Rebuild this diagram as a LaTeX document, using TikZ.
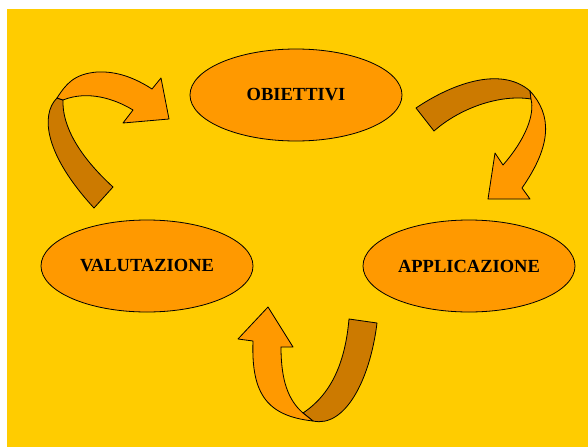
\documentclass[tikz,border=0pt]{standalone}
\usepackage{fontspec}
\setmainfont{Liberation Serif}
\usetikzlibrary{shapes.geometric}
\definecolor{bgyellow}{HTML}{FFCC00}
\definecolor{lightor}{HTML}{FF9900}
\definecolor{darkor}{HTML}{CC7A00}
\tikzset{
  oval/.style={ellipse, draw=black, line width=0.8pt, fill=lightor,
    minimum width=212pt, minimum height=92pt, inner sep=0pt,
    font=\fontsize{18.5}{22}\selectfont\bfseries},
  lightpart/.style={fill=lightor, draw=black, line width=0.8pt, line join=round},
  darkpart/.style={fill=darkor, draw=black, line width=0.8pt, line join=round}
}
\begin{document}
\begin{tikzpicture}[x=1pt,y=-1pt]
\useasboundingbox (0,0) rectangle (588,447);
\fill[bgyellow] (7,9) rectangle (588,447);

\node[oval] (obj) at (296,95) {OBIETTIVI};
\node[oval] (val) at (147,266) {VALUTAZIONE};
\node[oval] (app) at (469,266) {APPLICAZIONE};

% arrow top-left (valutazione -> obiettivi)
\draw[darkpart] (57,98) .. controls (40,115) and (45,155) .. (94,208)
  -- (113,187) .. controls (78,155) and (62,125) .. (63,100) -- cycle;
\draw[lightpart] (57,98) .. controls (66,84) and (74,74) .. (97,72)
  .. controls (117,71) and (135,78) .. (152,89)
  -- (161,78) -- (169,119) -- (123,123) -- (133,110)
  .. controls (115,99) and (88,90) .. (63,100) -- cycle;

% arrow top-right (obiettivi -> applicazione)
\draw[darkpart] (416,108) .. controls (450,85) and (500,65) .. (530,91)
  -- (531,99) .. controls (500,94) and (460,108) .. (434,131) -- cycle;
\draw[lightpart] (530,91) .. controls (552,115) and (552,145) .. (522,188)
  -- (530,199) -- (488,199) -- (495,153) -- (503,165)
  .. controls (525,140) and (535,115) .. (531,99) -- cycle;

% arrow bottom (applicazione -> valutazione)
\draw[darkpart] (313,421) .. controls (345,428) and (370,380) .. (377,323)
  -- (349,319) .. controls (345,365) and (330,395) .. (303,413) -- cycle;
\draw[lightpart] (253,341) .. controls (251,395) and (268,416) .. (313,421)
  -- (303,413) .. controls (288,400) and (281,380) .. (281,347)
  -- (293,347) -- (268,307) -- (238,339) -- cycle;
\end{tikzpicture}
\end{document}
